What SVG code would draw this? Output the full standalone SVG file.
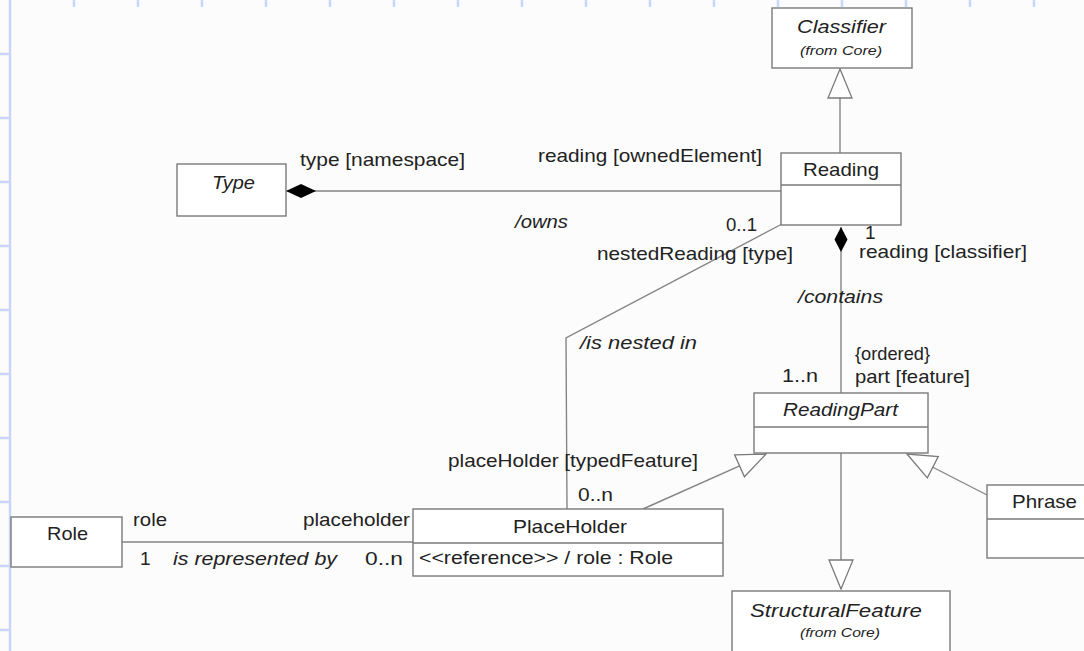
<svg xmlns="http://www.w3.org/2000/svg" width="1084" height="651" viewBox="0 0 1084 651">
  <style>
    .bg { fill: #fcfcfc; }
    .frame { stroke: #c9d5fa; stroke-width: 2.5; fill: none; }
    .box { fill: #ffffff; stroke: #7a7a7a; stroke-width: 1.4; }
    .div { stroke: #7a7a7a; stroke-width: 1.4; }
    .edge { fill: none; stroke: #858585; stroke-width: 1.4; }
    text { font-family: "Liberation Sans", Arial, sans-serif; font-size: 19px; fill: #222222; }
    .it { font-style: italic; }
    .sm { font-size: 13px; }
  </style>
  <defs>
    <!-- hollow generalization triangle, tip at the line end -->
    <marker id="gen" markerUnits="userSpaceOnUse" orient="auto" viewBox="-31 -14 33 28" markerWidth="33" markerHeight="28" refX="0" refY="0" overflow="visible">
      <path d="M0,0 L-29,-12 L-29,12 Z" fill="#ffffff" stroke="#7a7a7a" stroke-width="1.3"/>
    </marker>
    <!-- filled composition diamonds, placed at the line start -->
    <marker id="dia" markerUnits="userSpaceOnUse" orient="auto" viewBox="-1 -9 33 18" markerWidth="33" markerHeight="18" refX="0" refY="0" overflow="visible">
      <path d="M0,0 L15,-7 L30,0 L15,7 Z" fill="#000000"/>
    </marker>
    <marker id="diaS" markerUnits="userSpaceOnUse" orient="auto" viewBox="-1 -8 28 16" markerWidth="28" markerHeight="16" refX="0" refY="0" overflow="visible">
      <path d="M0,0 L12.5,-6.5 L25,0 L12.5,6.5 Z" fill="#000000"/>
    </marker>
  </defs>

  <rect class="bg" x="0" y="0" width="1084" height="651"/>

  <!-- page rulers -->
  <g id="ruler" class="frame">
    <line x1="10" y1="0" x2="10" y2="651"/>
    <path d="M74,0V7 M138,0V7 M202,0V7 M266,0V7 M330,0V7 M394,0V7 M458,0V7 M522,0V7 M586,0V7 M650,0V7 M714,0V7 M778,0V7 M842,0V7 M906,0V7 M970,0V7 M1034,0V7"/>
    <path d="M0,54H10 M0,118H10 M0,182H10 M0,246H10 M0,310H10 M0,374H10 M0,438H10 M0,502H10 M0,566H10 M0,630H10"/>
  </g>

  <!-- associations and generalizations -->
  <g id="connectors">
    <line class="edge" x1="840" y1="153" x2="840" y2="69" marker-end="url(#gen)"/>
    <line class="edge" x1="286" y1="191" x2="781" y2="191" marker-start="url(#dia)"/>
    <line class="edge" x1="841" y1="227" x2="841" y2="393" marker-start="url(#diaS)"/>
    <polyline class="edge" points="782,224 566,338 567,509"/>
    <line class="edge" x1="122" y1="542" x2="413" y2="542"/>
    <line class="edge" x1="643" y1="509" x2="766" y2="454" marker-end="url(#gen)"/>
    <line class="edge" x1="841" y1="453" x2="841" y2="589" marker-end="url(#gen)"/>
    <line class="edge" x1="987" y1="495" x2="907" y2="454" marker-end="url(#gen)"/>

    <text x="300" y="166" textLength="165" lengthAdjust="spacingAndGlyphs">type [namespace]</text>
    <text x="538" y="162" textLength="224" lengthAdjust="spacingAndGlyphs">reading [ownedElement]</text>
    <text class="it" x="515" y="228" textLength="53" lengthAdjust="spacingAndGlyphs">/owns</text>
    <text x="726" y="231" textLength="31" lengthAdjust="spacingAndGlyphs">0..1</text>
    <text x="597" y="260" textLength="196" lengthAdjust="spacingAndGlyphs">nestedReading [type]</text>
    <text x="865" y="239">1</text>
    <text x="859" y="258" textLength="168" lengthAdjust="spacingAndGlyphs">reading [classifier]</text>
    <text class="it" x="798" y="303" textLength="85" lengthAdjust="spacingAndGlyphs">/contains</text>
    <text class="it" x="580" y="349" textLength="117" lengthAdjust="spacingAndGlyphs">/is nested in</text>
    <text x="855" y="360" textLength="75" lengthAdjust="spacingAndGlyphs">{ordered}</text>
    <text x="855" y="383" textLength="115" lengthAdjust="spacingAndGlyphs">part [feature]</text>
    <text x="782" y="382" textLength="36" lengthAdjust="spacingAndGlyphs">1..n</text>
    <text x="448" y="467" textLength="250" lengthAdjust="spacingAndGlyphs">placeHolder [typedFeature]</text>
    <text x="578" y="501" textLength="35" lengthAdjust="spacingAndGlyphs">0..n</text>
    <text x="133" y="526" textLength="34" lengthAdjust="spacingAndGlyphs">role</text>
    <text x="303" y="526" textLength="107" lengthAdjust="spacingAndGlyphs">placeholder</text>
    <text x="140" y="565">1</text>
    <text class="it" x="173" y="565" textLength="164" lengthAdjust="spacingAndGlyphs">is represented by</text>
    <text x="365" y="565" textLength="38" lengthAdjust="spacingAndGlyphs">0..n</text>
  </g>

  <g id="classifier">
    <rect class="box" x="772" y="8" width="140" height="60"/>
    <text class="it" x="797" y="33" textLength="89" lengthAdjust="spacingAndGlyphs">Classifier</text>
    <text class="it sm" x="800" y="55" textLength="82" lengthAdjust="spacingAndGlyphs">(from Core)</text>
  </g>

  <g id="reading">
    <rect class="box" x="781" y="153" width="120" height="72"/>
    <line class="div" x1="781" y1="185" x2="901" y2="185"/>
    <text x="803" y="176" textLength="76" lengthAdjust="spacingAndGlyphs">Reading</text>
  </g>

  <g id="type">
    <rect class="box" x="177" y="164" width="109" height="52"/>
    <text class="it" x="212" y="189" textLength="43" lengthAdjust="spacingAndGlyphs">Type</text>
  </g>

  <g id="readingpart">
    <rect class="box" x="754" y="393" width="174" height="60"/>
    <line class="div" x1="754" y1="427" x2="928" y2="427"/>
    <text class="it" x="783" y="416" textLength="115" lengthAdjust="spacingAndGlyphs">ReadingPart</text>
  </g>

  <g id="placeholder">
    <rect class="box" x="413" y="509" width="310" height="67"/>
    <line class="div" x1="413" y1="543" x2="723" y2="543"/>
    <text x="513" y="533" textLength="114" lengthAdjust="spacingAndGlyphs">PlaceHolder</text>
    <text x="419" y="564" textLength="254" lengthAdjust="spacingAndGlyphs">&lt;&lt;reference&gt;&gt; / role : Role</text>
  </g>

  <g id="role">
    <rect class="box" x="11" y="517" width="111" height="50"/>
    <text x="47" y="540" textLength="41" lengthAdjust="spacingAndGlyphs">Role</text>
  </g>

  <g id="phrase">
    <rect class="box" x="987" y="485" width="110" height="73"/>
    <line class="div" x1="987" y1="519" x2="1097" y2="519"/>
    <text x="1012" y="508" textLength="65" lengthAdjust="spacingAndGlyphs">Phrase</text>
  </g>

  <g id="structuralfeature">
    <rect class="box" x="732" y="591" width="218" height="70"/>
    <text class="it" x="750" y="617" textLength="172" lengthAdjust="spacingAndGlyphs">StructuralFeature</text>
    <text class="it sm" x="800" y="637" textLength="80" lengthAdjust="spacingAndGlyphs">(from Core)</text>
  </g>
</svg>
